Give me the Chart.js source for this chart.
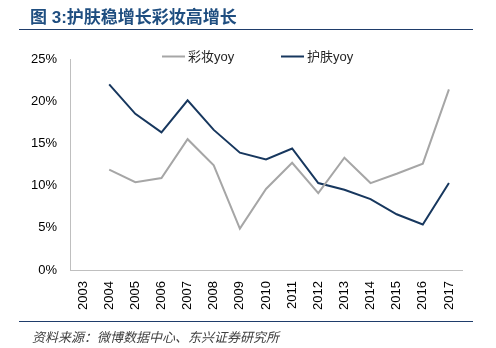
<!DOCTYPE html>
<html>
<head>
<meta charset="utf-8">
<script src="https://cdn.jsdelivr.net/npm/chart.js@4.4.0/dist/chart.umd.min.js"></script>
<style>
  html, body { margin: 0; padding: 0; background: #fff; }
  body { width: 496px; height: 348px; position: relative; overflow: hidden; font-family: "Liberation Sans", "Noto Sans CJK SC", sans-serif; }
  #wrap { position: absolute; left: 0; top: 0; width: 496px; height: 348px; }
  .title { position: absolute; left: 30px; top: 3px; font: bold 17px "Liberation Sans", "Noto Sans CJK SC", sans-serif; color: #1f4e80; white-space: nowrap; }
  .rule { position: absolute; left: 19px; width: 454px; height: 0; border-top: 1.5px solid #1f3d6b; }
  .source { position: absolute; left: 32px; top: 327px; font: italic 13px "Noto Sans CJK SC", sans-serif; color: #404040; white-space: nowrap; }
</style>
</head>
<body>
<div id="wrap"><canvas id="chart" width="496" height="348"></canvas></div>
<div class="title">图 3:护肤稳增长彩妆高增长</div>
<div class="rule" style="top:29px"></div>
<div class="rule" style="top:321px"></div>
<div class="source">资料来源：微博数据中心、东兴证券研究所</div>
<script>
/* ========= Data ========= */
const years = ["2003","2004","2005","2006","2007","2008","2009","2010","2011","2012","2013","2014","2015","2016","2017"];
const cosmeticsYoy = [null, 11.9, 10.4, 10.9, 15.5, 12.4, 4.9, 9.6, 12.7, 9.1, 13.3, 10.3, 11.4, 12.6, 21.4];
const skincareYoy  = [null, 22.0, 18.5, 16.3, 20.1, 16.6, 13.9, 13.1, 14.4, 10.3, 9.5, 8.4, 6.6, 5.4, 10.3];
const yTicks = [0, 5, 10, 15, 20, 25];

const GRAY = "#a6a6a6";
const NAVY = "#17375e";
const AXIS = "#bfbfbf";
const FONT = "'Liberation Sans', 'Noto Sans CJK SC', sans-serif";

/* ========= Legend drawn at fixed spot, overlapping the plot top ========= */
const lineLegend = {
  id: "lineLegend",
  afterDraw(chart) {
    const ctx = chart.ctx;
    const spots = [{ x: 162 }, { x: 281 }];
    ctx.save();
    ctx.font = "13px " + FONT;
    ctx.textBaseline = "middle";
    ctx.fillStyle = "#262626";
    chart.data.datasets.forEach((ds, i) => {
      const x = spots[i].x, y = 56.5;
      ctx.strokeStyle = ds.borderColor;
      ctx.lineWidth = ds.borderWidth;
      ctx.beginPath();
      ctx.moveTo(x, y);
      ctx.lineTo(x + 23, y);
      ctx.stroke();
      ctx.fillText(ds.label, x + 26, y + 1);
    });
    ctx.restore();
  }
};

new Chart(document.getElementById("chart"), {
  type: "line",
  data: {
    labels: years,
    datasets: [
      { label: "彩妆yoy", data: cosmeticsYoy, borderColor: GRAY, backgroundColor: GRAY, borderWidth: 2, pointRadius: 0, tension: 0 },
      { label: "护肤yoy", data: skincareYoy, borderColor: NAVY, backgroundColor: NAVY, borderWidth: 2, pointRadius: 0, tension: 0 }
    ]
  },
  options: {
    responsive: false,
    animation: false,
    layout: { padding: { left: 0, right: 34, top: 59, bottom: 0 } },
    plugins: { legend: { display: false }, tooltip: { enabled: false } },
    scales: {
      x: {
        offset: true,
        grid: { display: true, drawOnChartArea: false, drawTicks: false },
        border: { display: true, color: AXIS, width: 1 },
        ticks: { color: "#000", font: { size: 13, family: FONT }, minRotation: 90, maxRotation: 90, padding: 11, autoSkip: false },
        afterFit: s => { s.height = 78; }
      },
      y: {
        min: 0, max: 25,
        afterBuildTicks: s => { s.ticks = yTicks.map(v => ({ value: v })); },
        grid: { display: true, drawOnChartArea: false, drawTicks: false },
        border: { display: true, color: AXIS, width: 1 },
        ticks: { color: "#000", font: { size: 13, family: FONT }, padding: 13, callback: v => v + "%" },
        afterFit: s => { s.width = 70; }
      }
    }
  },
  plugins: [lineLegend]
});
</script>
</body>
</html>
